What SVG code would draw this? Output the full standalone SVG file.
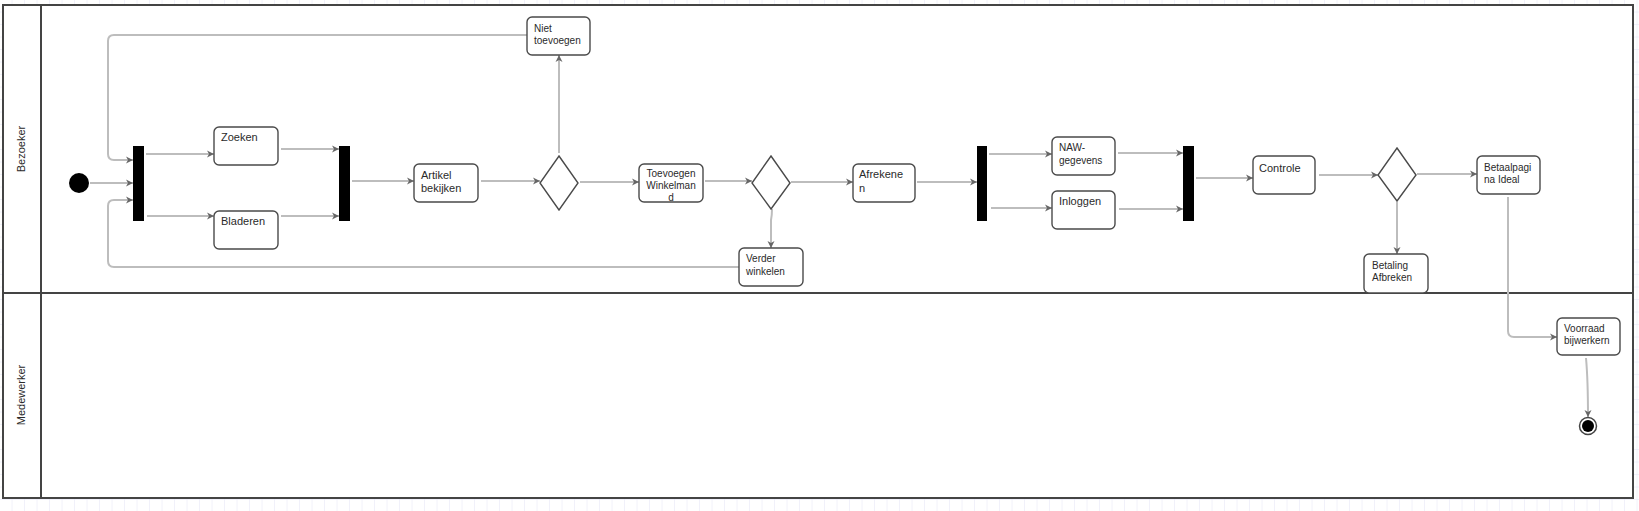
<svg xmlns="http://www.w3.org/2000/svg" width="1639" height="511" viewBox="0 0 1639 511">
<defs>
<pattern id="grid" width="12.5" height="12.5" patternUnits="userSpaceOnUse">
<path d="M12.5,0 V12.5 M0,12.5 H12.5" fill="none" stroke="#e4e4f6" stroke-width="1"/>
</pattern>
<marker id="arr" markerWidth="8" markerHeight="8" refX="7" refY="4" orient="auto" markerUnits="userSpaceOnUse">
<path d="M0,0.5 L7,4 L0,7.5 L2,4 z" fill="#666"/>
</marker>
<style>
.lane{fill:#fff;stroke:#444;stroke-width:2}
.box{fill:#fff;stroke:#4a4a4a;stroke-width:1.4}
.bar{fill:#000}
.dia{fill:#fff;stroke:#4a4a4a;stroke-width:1.4}
.c{fill:none;stroke:#bdbdbd;stroke-width:2;marker-end:url(#arr)}
text{font-family:"Liberation Sans",Arial,sans-serif;fill:#2a2a2a}
.t11{font-size:11px}
.t10{font-size:10px}
</style>
</defs>
<rect width="1639" height="511" fill="#fff"/>
<rect width="1639" height="511" fill="url(#grid)"/>

<g id="pool">
<rect class="lane" x="3" y="5" width="1630" height="493"/>
<line x1="41" y1="5" x2="41" y2="498" stroke="#444" stroke-width="2"/>
<line x1="3" y1="293" x2="1633" y2="293" stroke="#444" stroke-width="2"/>
<text class="t11" transform="translate(25,149) rotate(-90)" text-anchor="middle">Bezoeker</text>
<text class="t11" transform="translate(25,395) rotate(-90)" text-anchor="middle">Medewerker</text>
</g>

<g id="connectors">
<path class="c" d="M90,183 H133"/>
<path class="c" d="M527,35 H114 Q108,35 108,41 V154 Q108,160 114,160 H133"/>
<path class="c" d="M739,267 H114 Q108,267 108,261 V206 Q108,200 114,200 H133"/>
<path class="c" d="M146,154 H214"/>
<path class="c" d="M147,216 H214"/>
<path class="c" d="M281,149 H339"/>
<path class="c" d="M281,216 H339"/>
<path class="c" d="M352,181 H414"/>
<path class="c" d="M481,181 H540"/>
<path class="c" d="M559,153 V55"/>
<path class="c" d="M580,182 H639"/>
<path class="c" d="M705,181 H752"/>
<path class="c" d="M791,182 H853"/>
<path class="c" d="M772,209 Q772,215 771,220 V248"/>
<path class="c" d="M917,182 H977"/>
<path class="c" d="M989,154 H1052"/>
<path class="c" d="M991,208 H1052"/>
<path class="c" d="M1118,153 H1183"/>
<path class="c" d="M1119,209 H1183"/>
<path class="c" d="M1196,178 H1253"/>
<path class="c" d="M1319,175 H1378"/>
<path class="c" d="M1417,174 H1477"/>
<path class="c" d="M1397,202 V254"/>
<path class="c" d="M1508,197 V331 Q1508,337 1514,337 H1557"/>
<path class="c" d="M1586,358 Q1588,380 1588,417"/>
</g>

<g id="start"><circle cx="79" cy="183" r="10" fill="#000"/></g>
<g id="fork1"><rect class="bar" x="133" y="146" width="11" height="75"/></g>
<g id="zoeken"><rect class="box" x="214" y="127" width="64" height="38" rx="5"/><text class="t11" x="221" y="141">Zoeken</text></g>
<g id="bladeren"><rect class="box" x="214" y="211" width="64" height="38" rx="5"/><text class="t11" x="221" y="225">Bladeren</text></g>
<g id="join1"><rect class="bar" x="339" y="146" width="11" height="75"/></g>
<g id="artikel"><rect class="box" x="414" y="164" width="64" height="38" rx="5"/><text class="t11" x="421" y="179">Artikel</text><text class="t11" x="421" y="192">bekijken</text></g>
<g id="decision1"><polygon class="dia" points="559,156 578,183 559,210 540,183"/></g>
<g id="niet"><rect class="box" x="527" y="17" width="63" height="38" rx="5"/><text class="t10" x="534" y="32">Niet</text><text class="t10" x="534" y="44">toevoegen</text></g>
<g id="toevoegen"><rect class="box" x="639" y="164" width="64" height="38" rx="5"/><text class="t10" x="671" y="177" text-anchor="middle">Toevoegen</text><text class="t10" x="671" y="189" text-anchor="middle">Winkelman</text><text class="t10" x="671" y="201" text-anchor="middle">d</text></g>
<g id="decision2"><polygon class="dia" points="771,156 790,183 771,209 752,183"/></g>
<g id="verder"><rect class="box" x="739" y="248" width="64" height="38" rx="5"/><text class="t10" x="746" y="262">Verder</text><text class="t10" x="746" y="275">winkelen</text></g>
<g id="afrekenen"><rect class="box" x="853" y="164" width="62" height="38" rx="5"/><text class="t11" x="859" y="178">Afrekene</text><text class="t11" x="859" y="192">n</text></g>
<g id="fork2"><rect class="bar" x="977" y="146" width="10" height="75"/></g>
<g id="naw"><rect class="box" x="1052" y="137" width="63" height="38" rx="5"/><text class="t10" x="1059" y="151">NAW-</text><text class="t10" x="1059" y="164">gegevens</text></g>
<g id="inloggen"><rect class="box" x="1052" y="191" width="63" height="38" rx="5"/><text class="t11" x="1059" y="205">Inloggen</text></g>
<g id="join2"><rect class="bar" x="1183" y="146" width="11" height="75"/></g>
<g id="controle"><rect class="box" x="1253" y="156" width="62" height="38" rx="5"/><text class="t11" x="1259" y="172">Controle</text></g>
<g id="decision3"><polygon class="dia" points="1397,148 1416,175 1397,201 1378,175"/></g>
<g id="betaalpagina"><rect class="box" x="1477" y="156" width="63" height="38" rx="5"/><text class="t10" x="1484" y="171">Betaalpagi</text><text class="t10" x="1484" y="183">na Ideal</text></g>
<g id="betaling"><rect class="box" x="1364" y="254" width="64" height="39" rx="5"/><text class="t10" x="1372" y="269">Betaling</text><text class="t10" x="1372" y="281">Afbreken</text></g>
<g id="voorraad"><rect class="box" x="1557" y="318" width="63" height="37" rx="5"/><text class="t10" x="1564" y="332">Voorraad</text><text class="t10" x="1564" y="344">bijwerkern</text></g>
<g id="end"><circle cx="1588" cy="426" r="8.5" fill="#fff" stroke="#444" stroke-width="1.5"/><circle cx="1588" cy="426" r="6" fill="#000"/></g>
</svg>
